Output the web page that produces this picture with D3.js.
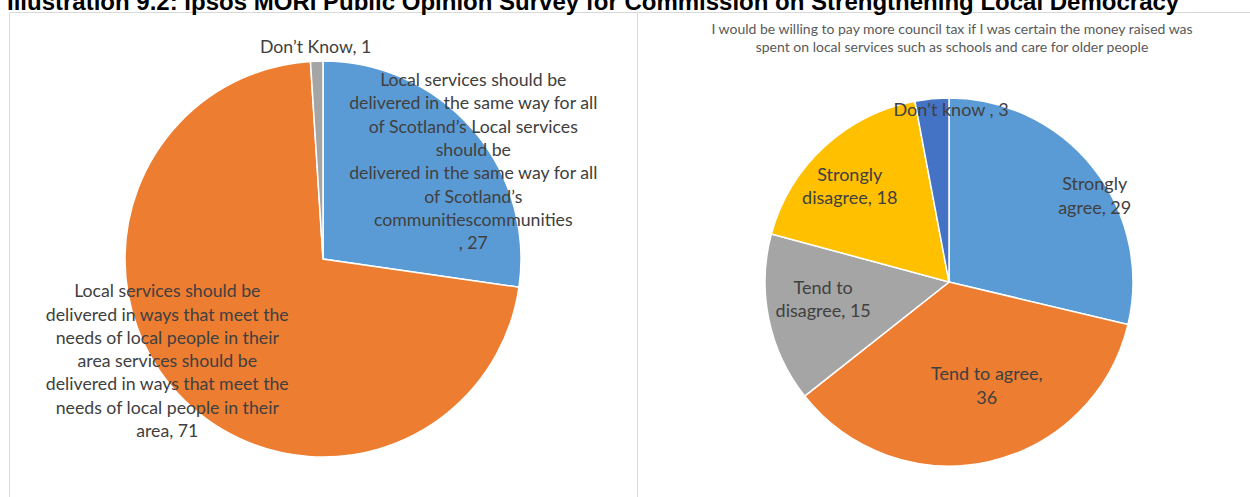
<!DOCTYPE html>
<html>
<head>
<meta charset="utf-8">
<script src="https://cdn.jsdelivr.net/npm/d3@7.9.0/dist/d3.min.js"></script>
<style>
  html, body { margin: 0; padding: 0; background: #fff; }
  svg { display: block; }
  .lbl { font-family: Lato, "Open Sans", sans-serif; fill: #404040; }
</style>
</head>
<body>
<svg id="chart" width="1250" height="497"></svg>
<script>
const pageTitle = 'Illustration 9.2: Ipsos MORI Public Opinion Survey for Commission on Strengthening Local Democracy';

// left pie
const leftCategories = [
  'Local services should be delivered in the same way for all of Scotland’s communities',
  'Local services should be delivered in ways that meet the needs of local people in their area',
  'Don’t Know'
];
const leftValues = [27, 71, 1];
const leftLabelLines = [
  ['Local services should be', 'delivered in the same way for all', 'of Scotland’s  Local services', 'should be',
   'delivered in the same way for all', 'of Scotland’s', 'communitiescommunities', ', 27'],
  ['Local services should be', 'delivered in ways that meet the', 'needs of local people in their', 'area services should be',
   'delivered in ways that meet the', 'needs of local people in their', 'area, 71'],
  ['Don’t Know, 1']
];
const leftColors = ['#5b9bd5', '#ed7d31', '#a5a5a5'];

// right pie
const rightTitle = ['I would be willing to pay more council tax if I was certain the money raised was',
                    'spent on local services such as schools and care for older people'];
const rightCategories = ['Strongly agree', 'Tend to agree', 'Tend to disagree', 'Strongly disagree', 'Don’t know'];
const rightValues = [29, 36, 15, 18, 3];
const rightLabelLines = [
  ['Strongly', 'agree, 29'],
  ['Tend to agree,', '36'],
  ['Tend to', 'disagree, 15'],
  ['Strongly', 'disagree, 18'],
  ['Don’t know , 3']
];
const rightColors = ['#5b9bd5', '#ed7d31', '#a5a5a5', '#ffc000', '#4472c4'];

// label placement (angle in degrees clockwise from 12 o'clock, distance as share of radius)
const leftLabelPolar = [[57, 0.905], [236.8, 0.94], [-2, 1.07]];
const rightLabelPolar = [[59.4, 0.92], [160, 0.6], [262.3, 0.69], [314, 0.75], [0.7, 0.935]];

const svg = d3.select('#chart');

// panel borders
const border = svg.append('g').attr('fill', 'none').attr('stroke', '#d9d9d9').attr('stroke-width', 1);
border.append('path').attr('d', 'M9.5,520V12.5H637.5V520');
border.append('path').attr('d', 'M637.5,12.5H1250');

svg.append('text')
  .attr('x', 7).attr('y', 10)
  .attr('font-family', '"Liberation Sans", Arial, sans-serif')
  .attr('font-weight', 'bold')
  .attr('font-size', 24)
  .attr('fill', '#000')
  .text(pageTitle);

svg.append('g').selectAll('text')
  .data(rightTitle)
  .join('text')
  .attr('class', 'lbl')
  .attr('x', 952)
  .attr('y', (d, i) => 34 + i * 17.5)
  .attr('text-anchor', 'middle')
  .attr('font-size', 14)
  .style('fill', '#595959')
  .text(d => d);

function drawPie(cx, cy, r, values, colors, lines, polar, fontSize, lineH) {
  const g = svg.append('g').attr('transform', `translate(${cx},${cy})`);
  const pie = d3.pie().sort(null).value(d => d);
  const arc = d3.arc().innerRadius(0).outerRadius(r);
  const arcs = pie(values);

  g.selectAll('path')
    .data(arcs)
    .join('path')
    .attr('d', arc)
    .attr('fill', (d, i) => colors[i])
    .attr('stroke', '#fff')
    .attr('stroke-width', 1.5);

  g.selectAll('text.lbl')
    .data(arcs)
    .join('text')
    .attr('class', 'lbl')
    .attr('text-anchor', 'middle')
    .attr('font-size', fontSize)
    .each(function (d, i) {
      const a = polar[i][0] * Math.PI / 180;
      const dist = polar[i][1] * r;
      const x = Math.sin(a) * dist;
      const y = -Math.cos(a) * dist;
      const ls = lines[i];
      const y0 = y - (ls.length - 1) * lineH / 2;
      d3.select(this).selectAll('tspan')
        .data(ls)
        .join('tspan')
        .attr('x', x)
        .attr('y', (t, j) => y0 + j * lineH)
        .attr('dy', '0.35em')
        .text(t => t);
    });
}

drawPie(323, 259, 198, leftValues, leftColors, leftLabelLines, leftLabelPolar, 17.7, 23.3);
drawPie(949, 282, 184, rightValues, rightColors, rightLabelLines, rightLabelPolar, 18, 23.3);
</script>
</body>
</html>
